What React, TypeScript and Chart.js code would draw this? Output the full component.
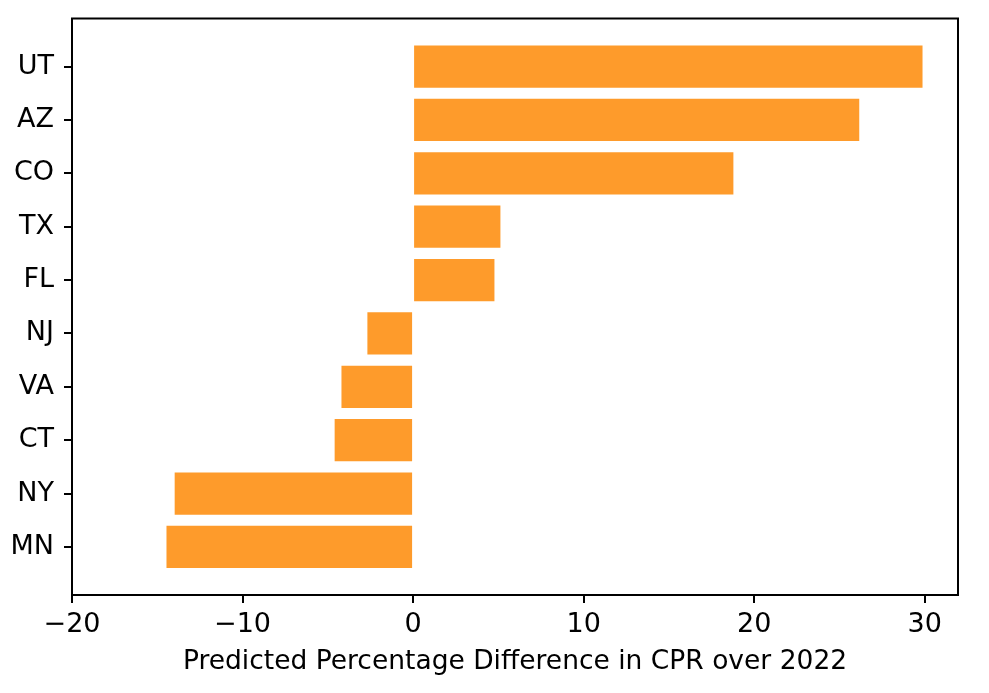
import React, { useEffect, useRef } from "react";
import { Chart, registerables } from "chart.js";

Chart.register(...registerables);

const states = ["MN", "NY", "CT", "VA", "NJ", "FL", "TX", "CO", "AZ", "UT"];
const values = [-14.46, -13.98, -4.6, -4.2, -2.68, 4.77, 5.12, 18.78, 26.16, 29.87];
const xTicks = [-20, -10, 0, 10, 20, 30];
const xLabel = "Predicted Percentage Difference in CPR over 2022";

const FONT = "'DejaVu Sans', sans-serif";

const framePlugin = {
  id: "frame",
  afterDatasetsDraw(chart: any) {
    const { ctx, chartArea } = chart;
    ctx.save();
    ctx.strokeStyle = "#000";
    ctx.lineWidth = 2;
    ctx.strokeRect(chartArea.left, chartArea.top, chartArea.right - chartArea.left, chartArea.bottom - chartArea.top);
    ctx.restore();
  },
};

export default function App() {
  const ref = useRef<HTMLCanvasElement>(null);
  useEffect(() => {
    document.body.style.margin = "0";
    const chart = new Chart(ref.current!, {
      type: "bar",
      data: {
        datasets: [
          {
            data: values.map((v, i) => ({ x: v, y: i })),
            backgroundColor: "#FE9B2B",
            borderWidth: 0,
            barPercentage: 0.79,
            categoryPercentage: 1,
          },
        ],
      },
      options: {
        indexAxis: "y",
        animation: false,
        responsive: false,
        maintainAspectRatio: false,
        layout: { padding: { top: 18.5, right: 31, left: 0, bottom: 0 } },
        plugins: { legend: { display: false }, tooltip: { enabled: false } },
        scales: {
          x: {
            type: "linear",
            min: -20,
            max: 31.95,
            offset: false,
            afterBuildTicks: (s: any) => {
              s.ticks = xTicks.map((v) => ({ value: v }));
            },
            afterFit: (s: any) => {
              s.height = 98;
              s.paddingLeft = 0;
              s.paddingRight = 0;
            },
            ticks: {
              color: "#000",
              font: { family: FONT, size: 27 },
              padding: 6,
              maxRotation: 0,
              autoSkip: false,
              callback: (v: any) => (v < 0 ? "\u2212" + Math.abs(v) : String(v)),
            },
            grid: { drawOnChartArea: false, offset: false, color: "#000", lineWidth: 2, tickLength: 8 },
            border: { display: false },
            title: {
              display: true,
              text: xLabel,
              color: "#000",
              font: { family: FONT, size: 26.5 },
              padding: { top: 0, bottom: 15 },
            },
          },
          y: {
            type: "linear",
            min: -0.9,
            max: 9.9,
            offset: false,
            afterBuildTicks: (s: any) => {
              s.ticks = states.map((_, i) => ({ value: i }));
            },
            afterFit: (s: any) => {
              s.width = 72;
              s.paddingTop = 0;
              s.paddingBottom = 0;
            },
            ticks: {
              color: "#000",
              font: { family: FONT, size: 27 },
              padding: 10,
              autoSkip: false,
              callback: (v: any) => states[v] ?? "",
            },
            grid: { drawOnChartArea: false, offset: false, color: "#000", lineWidth: 2, tickLength: 8 },
            border: { display: false },
          },
        },
      },
      plugins: [framePlugin],
    } as any);
    return () => chart.destroy();
  }, []);
  return <canvas ref={ref} width={989} height={693} style={{ display: "block" }} />;
}
